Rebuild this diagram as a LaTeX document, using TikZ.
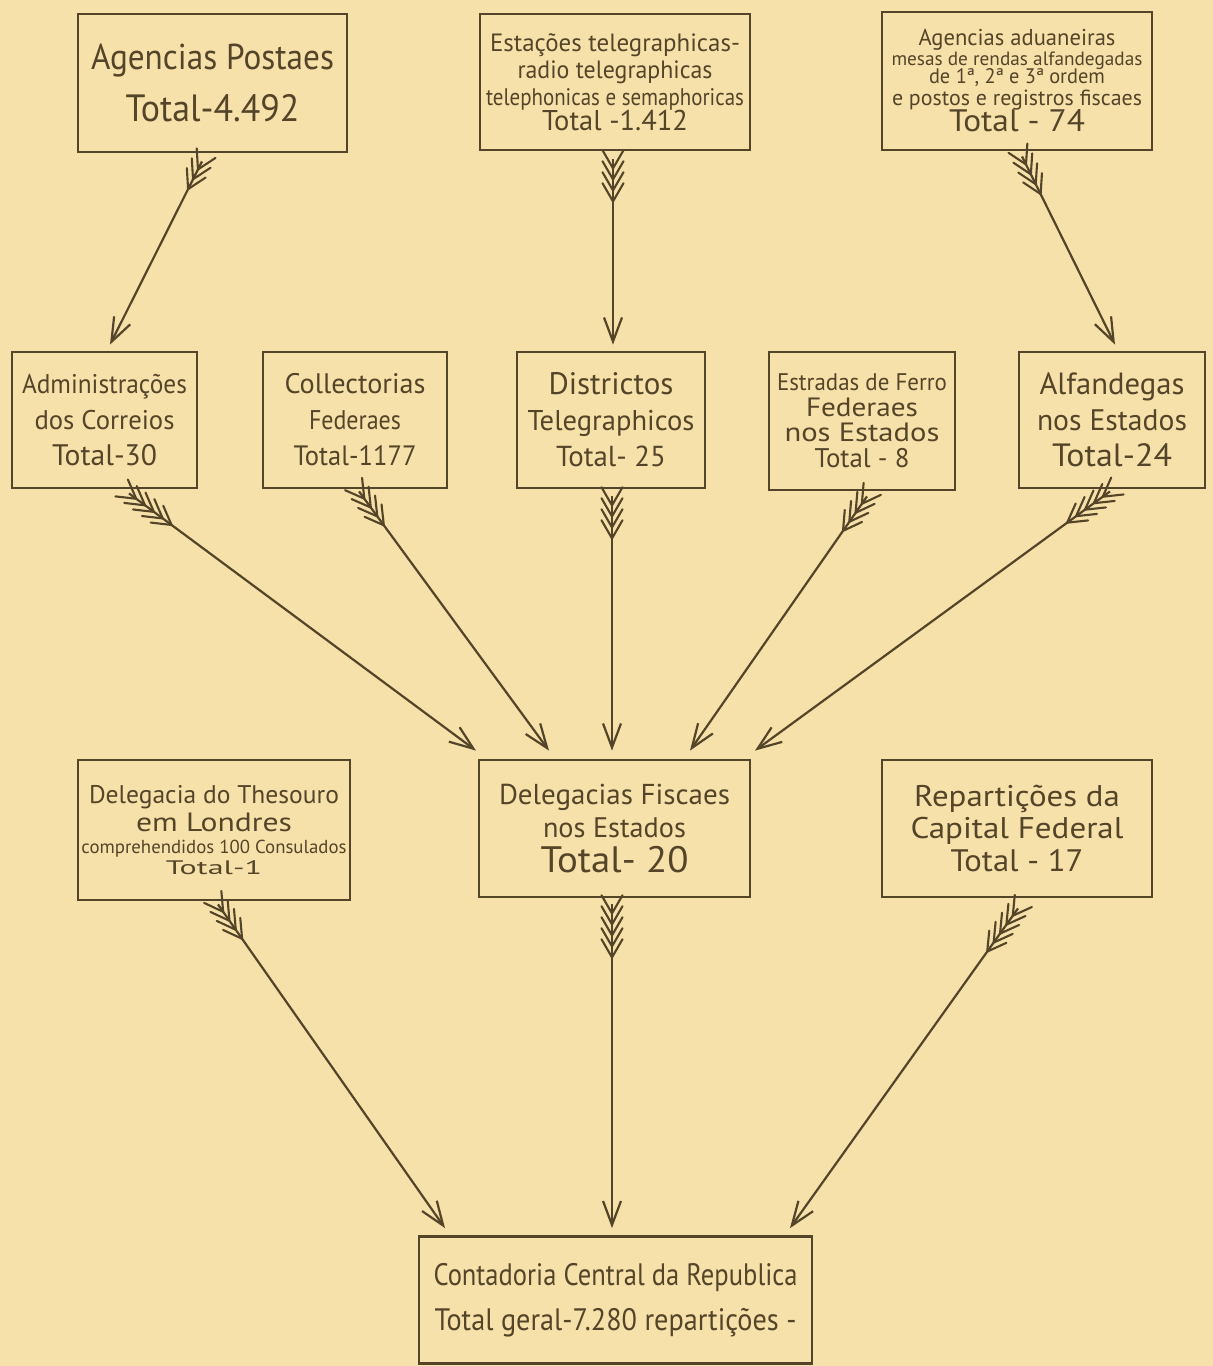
\documentclass[tikz,border=0pt]{standalone}
\usepackage{graphicx}
\usepackage{fontspec}
\newfontfamily\lbl{PT Sans}
\usetikzlibrary{arrows.meta,calc}
\definecolor{paper}{RGB}{247,225,170}
\definecolor{ink}{RGB}{84,68,40}
% fit a line to a given width: condense, or enlarge a little and widen
\newsavebox\txbox
\newcommand{\txl}[3]{%
  \sbox\txbox{\fontsize{#2}{#2}\selectfont #3}%
  \pgfmathsetmacro\txr{#1/\wd\txbox}%
  \pgfmathsetmacro\txu{max(1,min(\txr,1.15))}%
  \scalebox{\txr}[\txu]{\usebox\txbox}}
\newcommand{\bskip}[1]{\lbl\fontsize{20}{#1}\selectfont\lineskiplimit=-100pt\lineskip=0pt}
\tikzset{
  box/.style={draw=ink, line width=2.8pt, text=ink, align=center, inner sep=0pt},
  conn/.style={draw=ink, line width=2.2pt, -{Straight Barb[length=24pt,width=18pt,line width=2.2pt]}},
  barb/.style={draw=ink, line width=2.1pt, line cap=round, line join=round},
}
\newcommand{\fletched}[3]{%
  \draw[conn] (#1) -- (#2);
  \foreach \k in {1,...,#3}{%
    \pgfmathsetlengthmacro{\dd}{9+11*(\k-1)}%
    \path ($(#1)!\dd!(#2)$) coordinate (bp);
    \draw[barb] ($(bp)!21pt!30:(#1)$) -- (bp) -- ($(bp)!21pt!-30:(#1)$);
  }%
}
\begin{document}
\begin{tikzpicture}[x=1pt,y=-1pt]
\fill[paper] (0,0) rectangle (1213,1366);
\useasboundingbox (0,0) rectangle (1213,1366);

% top row
\node[box, minimum width=269pt, minimum height=138pt, font=\bskip{52}] (ap) at (212.5,83)
  {\txl{243}{36}{Agencias Postaes}\\\txl{174}{38}{Total-4.492}};
\node[box, minimum width=270pt, minimum height=136pt, font=\bskip{27}] (est) at (615,82)
  {\txl{250}{25}{Estações telegraphicas-}\\\txl{195}{25}{radio telegraphicas}\\
   \txl{258}{24}{telephonicas e semaphoricas}\\[-2pt]\txl{146}{28}{Total -1.412}};
\node[box, minimum width=270pt, minimum height=138pt, font=\bskip{21}] (adu) at (1017,81)
  {\txl{197}{23}{Agencias aduaneiras}\\[-1pt]\txl{251}{19}{mesas de rendas alfandegadas}\\[-3pt]
   \txl{176}{21}{de 1ª, 2ª e 3ª ordem}\\[1pt]\txl{250}{20}{e postos e registros fiscaes}\\[5pt]
   \txl{136}{27}{Total - 74}};

% middle row
\node[box, minimum width=185pt, minimum height=136pt, font=\bskip{36}] (adm) at (104.5,420)
  {\txl{165}{27}{Administrações}\\\txl{140}{27}{dos Correios}\\\txl{105}{28}{Total-30}};
\node[box, minimum width=184pt, minimum height=136pt, font=\bskip{36}] (col) at (355,420)
  {\txl{141}{27}{Collectorias}\\\txl{92}{27}{Federaes}\\\txl{123}{28}{Total-1177}};
\node[box, minimum width=188pt, minimum height=136pt, font=\bskip{36}] (dis) at (611,420)
  {\txl{125}{27}{Districtos}\\\txl{167}{27}{Telegraphicos}\\\txl{110}{28}{Total- 25}};
\node[box, minimum width=186pt, minimum height=138pt, font=\bskip{25.5}] (efe) at (862,421)
  {\txl{170}{24}{Estradas de Ferro}\\\txl{112}{23}{Federaes}\\\txl{155}{23}{nos Estados}\\\txl{95}{25}{Total - 8}};
\node[box, minimum width=186pt, minimum height=136pt, font=\bskip{36}] (alf) at (1112,420)
  {\txl{145}{27}{Alfandegas}\\\txl{150}{27}{nos Estados}\\\txl{120}{28}{Total-24}};

% third row
\node[box, minimum width=272pt, minimum height=140pt, font=\bskip{28}] (thes) at (214,830)
  {\txl{250}{24}{Delegacia do Thesouro}\\\txl{156}{23}{em Londres}\\[-6pt]
   \txl{265}{18}{comprehendidos 100 Consulados}\\[-7pt]\txl{96}{17}{Total-1}};
\node[box, minimum width=271pt, minimum height=137pt, font=\bskip{33}] (dfi) at (614.5,828.5)
  {\txl{231}{25}{Delegacias Fiscaes}\\\txl{143}{25}{nos Estados}\\[2pt]\txl{148}{32}{Total- 20}};
\node[box, minimum width=270pt, minimum height=137pt, font=\bskip{33}] (rep) at (1017,828.5)
  {\txl{206}{26}{Repartições da}\\\txl{213}{26}{Capital Federal}\\\txl{133}{27}{Total - 17}};

% bottom
\node[box, minimum width=393pt, minimum height=127pt, font=\bskip{45}] (cont) at (615.5,1300)
  {\txl{364}{31}{Contadoria Central da Republica}\\\txl{362}{31}{Total geral-7.280 repartições -}};

% anchor points for connectors
\coordinate (t1) at ([shift={(-10.5,8)}]ap.south);
\coordinate (h1) at ([shift={(5.5,-6)}]adm.north);
\coordinate (t2) at ([shift={(-2,8)}]est.south);
\coordinate (h2) at ([shift={(2,-6)}]dis.north);
\coordinate (t3) at ([shift={(5,5)}]adu.south);
\coordinate (h3) at ([shift={(3,-6)}]alf.north);
\coordinate (t4) at ([shift={(24.5,4)}]adm.south);
\coordinate (h4) at ([shift={(-138.5,-8)}]dfi.north);
\coordinate (t5) at ([shift={(4,2)}]col.south);
\coordinate (h5) at ([shift={(-65.5,-8)}]dfi.north);
\coordinate (t6) at ([shift={(1,7)}]dis.south);
\coordinate (h6) at ([shift={(-2.5,-8)}]dfi.north);
\coordinate (t7) at ([shift={(5,5)}]efe.south);
\coordinate (h7) at ([shift={(75.5,-8)}]dfi.north);
\coordinate (t8) at ([shift={(-2,2)}]alf.south);
\coordinate (h8) at ([shift={(140.5,-8)}]dfi.north);
\coordinate (t9) at ([shift={(4,3)}]thes.south);
\coordinate (h9) at ([shift={(-170.5,-7)}]cont.north);
\coordinate (t10) at ([shift={(-2.5,6)}]dfi.south);
\coordinate (h10) at ([shift={(-3.5,-7)}]cont.north);
\coordinate (t11) at ([shift={(1,10)}]rep.south);
\coordinate (h11) at ([shift={(174.5,-7)}]cont.north);

\fletched{t1}{h1}{3}
\fletched{t2}{h2}{4}
\fletched{t3}{h3}{4}
\fletched{t4}{h4}{5}
\fletched{t5}{h5}{4}
\fletched{t6}{h6}{4}
\fletched{t7}{h7}{4}
\fletched{t8}{h8}{5}
\fletched{t9}{h9}{4}
\fletched{t10}{h10}{5}
\fletched{t11}{h11}{5}
\end{tikzpicture}
\end{document}
